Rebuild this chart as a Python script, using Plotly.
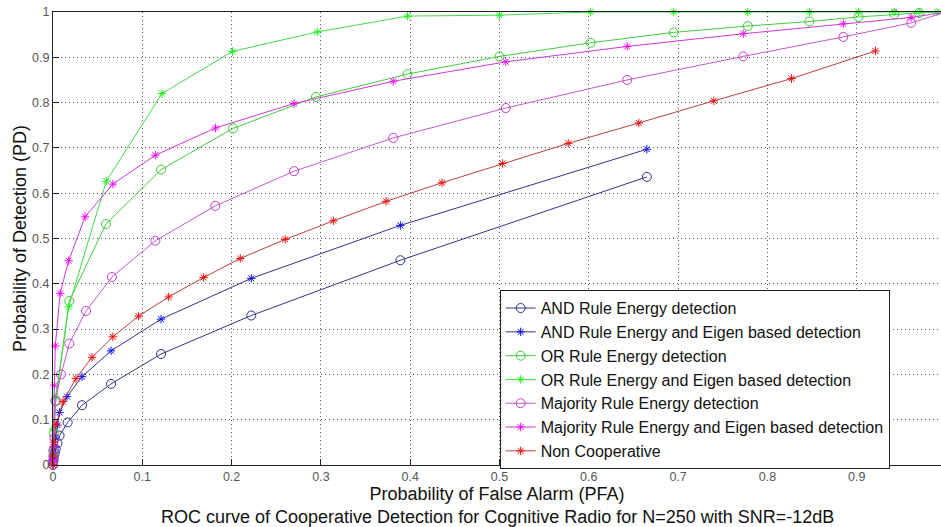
import plotly.graph_objects as go

# ---- data ----
and_en_x = [0, 0.0005, 0.001, 0.002, 0.003, 0.005, 0.0074, 0.0164, 0.0325, 0.065, 0.121, 0.222, 0.389, 0.665]
and_en_y = [0, 0.008, 0.016, 0.026, 0.035, 0.048, 0.065, 0.094, 0.132, 0.179, 0.245, 0.330, 0.452, 0.636]

and_eig_x = [0, 0.0005, 0.001, 0.002, 0.003, 0.005, 0.0074, 0.0157, 0.0325, 0.065, 0.121, 0.222, 0.389, 0.665]
and_eig_y = [0, 0.012, 0.025, 0.04, 0.062, 0.088, 0.116, 0.151, 0.195, 0.252, 0.322, 0.412, 0.529, 0.697]

or_en_x = [0, 0.0002, 0.001, 0.003, 0.0183, 0.0593, 0.121, 0.2016, 0.2945, 0.397, 0.500, 0.602, 0.695, 0.778, 0.847, 0.902, 0.942, 0.970, 1.0]
or_en_y = [0, 0.03, 0.07, 0.14, 0.362, 0.532, 0.652, 0.743, 0.8125, 0.863, 0.902, 0.932, 0.955, 0.969, 0.979, 0.989, 0.995, 0.998, 1.0]

or_eig_x = [0, 0.0005, 0.003, 0.0175, 0.0597, 0.122, 0.201, 0.296, 0.397, 0.500, 0.602, 0.695, 0.778, 0.847, 0.902, 0.942, 0.970, 0.99]
or_eig_y = [0, 0.08, 0.15, 0.349, 0.6265, 0.820, 0.913, 0.956, 0.991, 0.993, 1.0, 1.0, 1.0, 1.0, 1.0, 1.0, 1.0, 1.0]

maj_en_x = [0, 0.0002, 0.0004, 0.0008, 0.0015, 0.0026, 0.009, 0.0183, 0.037, 0.066, 0.1146, 0.1817, 0.270, 0.381, 0.507, 0.643, 0.773, 0.885, 0.961, 1.0]
maj_en_y = [0, 0.01, 0.02, 0.035, 0.06, 0.142, 0.2, 0.268, 0.340, 0.415, 0.495, 0.572, 0.6486, 0.722, 0.788, 0.850, 0.902, 0.945, 0.976, 1.0]

maj_eig_x = [0, 0.0003, 0.0008, 0.0015, 0.0026, 0.008, 0.0175, 0.036, 0.067, 0.1146, 0.182, 0.270, 0.381, 0.507, 0.643, 0.773, 0.885, 0.961, 1.0]
maj_eig_y = [0, 0.01, 0.04, 0.176, 0.263, 0.379, 0.451, 0.548, 0.620, 0.684, 0.744, 0.798, 0.847, 0.890, 0.924, 0.952, 0.974, 0.988, 1.0]

noncoop_x = [0, 0.0003, 0.001, 0.0034, 0.0112, 0.0257, 0.0437, 0.067, 0.0959, 0.1295, 0.1687, 0.2097, 0.260, 0.314, 0.373, 0.4356, 0.5035, 0.577, 0.656, 0.740, 0.827, 0.921]
noncoop_y = [0, 0.02, 0.05, 0.09, 0.14, 0.191, 0.2376, 0.283, 0.3287, 0.371, 0.414, 0.456, 0.498, 0.539, 0.582, 0.623, 0.6655, 0.710, 0.755, 0.804, 0.853, 0.914]

x_ticks = [0, 0.1, 0.2, 0.3, 0.4, 0.5, 0.6, 0.7, 0.8, 0.9]
x_tick_text = ["0", "0.1", "0.2", "0.3", "0.4", "0.5", "0.6", "0.7", "0.8", "0.9"]
y_ticks = [0, 0.1, 0.2, 0.3, 0.4, 0.5, 0.6, 0.7, 0.8, 0.9, 1.0]
y_tick_text = ["0", "0.1", "0.2", "0.3", "0.4", "0.5", "0.6", "0.7", "0.8", "0.9", "1"]

series = [
    ("AND Rule Energy detection", and_en_x, and_en_y, "#34348a", "circle-open", "#2e2e88"),
    ("AND Rule Energy and Eigen based detection", and_eig_x, and_eig_y, "#34348a", "asterisk-open", "#1010ee"),
    ("OR Rule Energy detection", or_en_x, or_en_y, "#44cc44", "circle-open", "#33cc33"),
    ("OR Rule Energy and Eigen based detection", or_eig_x, or_eig_y, "#44dd44", "asterisk-open", "#22ee22"),
    ("Majority Rule Energy detection", maj_en_x, maj_en_y, "#c458cc", "circle-open", "#c040c8"),
    ("Majority Rule Energy and Eigen based detection", maj_eig_x, maj_eig_y, "#d038d8", "asterisk-open", "#ee10ee"),
    ("Non Cooperative", noncoop_x, noncoop_y, "#b84040", "asterisk-open", "#ee1010"),
]

fig = go.Figure()
for name, xs, ys, lc, sym, mc in series:
    circ = sym.startswith("circle")
    fig.add_trace(go.Scatter(
        x=xs, y=ys, mode="lines+markers", name=name,
        line=dict(color=lc, width=1),
        marker=dict(symbol=sym, size=9 if circ else 7, color=mc,
                    line=dict(color=mc, width=1)),
        cliponaxis=False,
    ))

fnt = "Arial, Liberation Sans, sans-serif"
grid = dict(showgrid=True, gridcolor="#555555", griddash="1px,3px", gridwidth=1,
            zeroline=False, showline=True, linecolor="#222222", linewidth=1,
            ticks="inside", ticklen=6, tickcolor="#222222",
            tickfont=dict(size=12.5, color="#555555"))
fig.update_layout(
    width=941, height=527,
    margin=dict(l=53, r=0, t=12, b=62),
    paper_bgcolor="white", plot_bgcolor="white",
    font=dict(family=fnt, color="#222222"),
    showlegend=True,
    legend=dict(x=0.503, y=0.386, xanchor="left", yanchor="top",
                bgcolor="white", bordercolor="#222222", borderwidth=1,
                font=dict(size=16, family=fnt, color="#111111"),
                tracegroupgap=0, itemwidth=30),
    xaxis=dict(range=[0, 0.9944], tickvals=x_ticks, ticktext=x_tick_text, mirror=True,
               title=dict(text="Probability of False Alarm (PFA)",
                          font=dict(size=18, color="#111111"), standoff=2),
               **grid),
    yaxis=dict(range=[0, 1], tickvals=y_ticks, ticktext=y_tick_text, mirror=False,
               title=dict(text="Probability of Detection (PD)",
                          font=dict(size=18, color="#111111"), standoff=0),
               **grid),
    annotations=[dict(text="ROC curve of Cooperative Detection for Cognitive Radio for N=250 with SNR=-12dB",
                      xref="paper", yref="paper", x=0.5, y=-0.088, xanchor="center", yanchor="top",
                      showarrow=False, font=dict(size=18, color="#111111", family=fnt))],
)

fig.write_html("out.html")
